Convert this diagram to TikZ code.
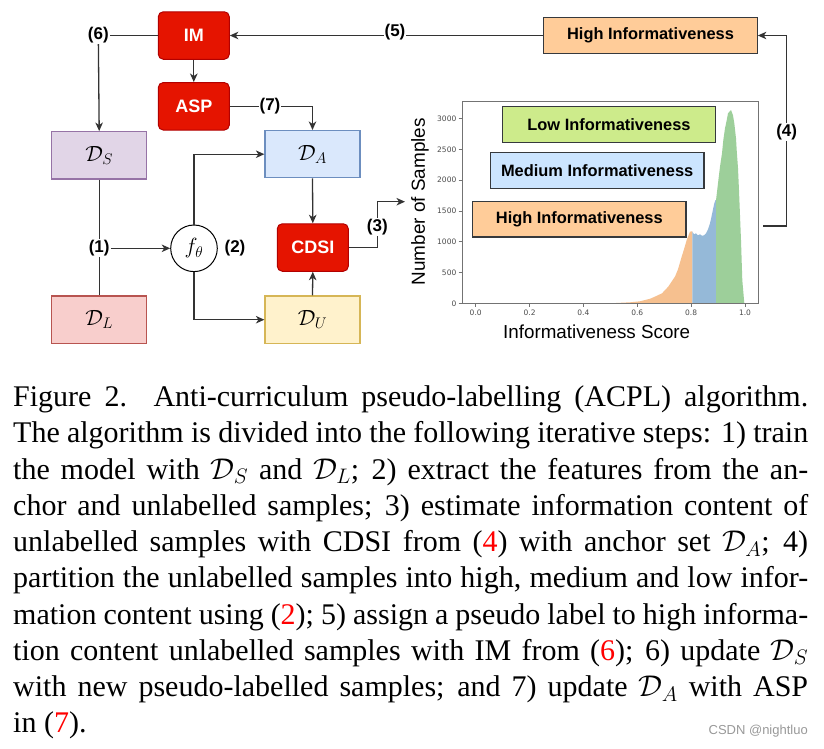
\RequirePackage{fix-cm}
\documentclass[tikz,border=0pt]{standalone}
\usepackage{fontspec}
\setmainfont{Liberation Serif}
\newfontfamily\arial{Liberation Sans}
\newfontfamily\dejavu{DejaVu Sans}
\usetikzlibrary{arrows.meta,calc}
\definecolor{redfill}{HTML}{E51400}
\definecolor{redline}{HTML}{B20000}
\definecolor{dsfill}{HTML}{E1D5E7}\definecolor{dsline}{HTML}{9673A6}
\definecolor{dlfill}{HTML}{F8CECC}\definecolor{dlline}{HTML}{B85450}
\definecolor{dafill}{HTML}{DAE8FC}\definecolor{daline}{HTML}{6C8EBF}
\definecolor{dufill}{HTML}{FFF2CC}\definecolor{duline}{HTML}{D6B656}
\definecolor{hifill}{HTML}{FFCC99}
\definecolor{mefill}{HTML}{CCE5FF}
\definecolor{lofill}{HTML}{CDEB8B}
\definecolor{boxgray}{HTML}{36393D}
\definecolor{linegray}{HTML}{333333}
\definecolor{horange}{HTML}{F6C08F}
\definecolor{hblue}{HTML}{95B9D8}
\definecolor{hgreen}{HTML}{9DCF9A}
\newcommand{\rn}[1]{\textcolor{red}{#1}}
\begin{document}
\begin{tikzpicture}[x=1pt,y=-1pt,
  redbox/.style={draw=redline, fill=redfill, rounded corners=5pt, minimum width=71pt, minimum height=47.5pt, inner sep=0pt, text=white, font=\arial\bfseries\fontsize{18}{21}\selectfont, line width=1pt},
  dbox/.style={minimum width=95pt, minimum height=47.3pt, inner sep=0pt, line width=1.2pt, font=\fontsize{22}{26}\selectfont},
  conn/.style={draw=linegray, line width=1.3pt},
  arr/.style={conn, -{Stealth[length=8.5pt,width=7.5pt,inset=2.5pt]}},
  lab/.style={font=\arial\bfseries\fontsize{17}{20}\selectfont, fill=white, inner sep=1pt},
  infobox/.style={draw=boxgray, line width=1.2pt, minimum width=213.5pt, minimum height=35.6pt, inner sep=0pt, font=\arial\bfseries\fontsize{16.4}{19}\selectfont},
  tickl/.style={font=\dejavu\fontsize{7.5}{9}\selectfont, text=black!70, inner sep=0pt},
  capline/.style={anchor=base west, inner sep=0pt, font=\fontsize{30}{36}\selectfont}
]
\useasboundingbox (0,0) rectangle (824,748);
\fill[white] (0,0) rectangle (824,748);

% ---------- histogram ----------
\fill[horange] (610,303.3) -- (620,302.8) -- (630,302.3) -- (640,301.3) -- (650,298.8) -- (655,296.6) -- (662,293.3) -- (668.3,286.6) -- (675,276.6) -- (678,269.3) -- (681.7,256.6) -- (684,249.3) -- (686.7,240) -- (690,231.6) -- (692.3,231.3) -- (692.3,303.3) -- cycle;
\fill[hblue] (692.3,303.3) -- (692.3,231.6) -- (694,234.3) -- (696,233.3) -- (698,235.3) -- (700,234.3) -- (702,235.8) -- (704,235.3) -- (706,233.3) -- (708,229.3) -- (710,223.3) -- (711.5,216.6) -- (713,209.3) -- (714.3,203.3) -- (715.5,200) -- (716,200) -- (716,303.3) -- cycle;
\fill[hgreen] (716,303.3) -- (716,200.3) -- (718,183.3) -- (720,166.6) -- (722,153.3) -- (723.3,140.3) -- (725,128.3) -- (726.7,120.3) -- (728,113.3) -- (731,110) -- (733,115.3) -- (734.3,123.3) -- (736,138.3) -- (736.7,150.3) -- (738,168.3) -- (739,190.3) -- (741,240.3) -- (742.3,280.3) -- (744.3,303.3) -- cycle;
\draw[black!55, line width=0.9pt] (462.3,101.7) rectangle (758.3,303.3);
\foreach \c in {0,500,1000,1500,2000,2500,3000}{
  \pgfmathsetmacro{\yy}{303.3-0.06153*\c}
  \draw[black!55, line width=0.8pt] (458.5,\yy) -- (462.3,\yy);
  \node[tickl, anchor=east] at (456.5,\yy) {\c};
}
\foreach \s/\t in {0/0.0,0.2/0.2,0.4/0.4,0.6/0.6,0.8/0.8,1/1.0}{
  \pgfmathsetmacro{\xx}{475.7+269.3*\s}
  \draw[black!55, line width=0.8pt] (\xx,303.3) -- (\xx,307);
  \node[tickl] at (\xx,312.5) {\t};
}
\node[rotate=90, font=\arial\fontsize{18.9}{22}\selectfont, inner sep=0pt] (ylab) at (420,201.7) {Number of Samples};
\node[font=\arial\fontsize{18.8}{22}\selectfont, inner sep=0pt] (xlab) at (596.7,332) {Informativeness Score};

\node[infobox, fill=lofill] (LO) at (609,124.5) {Low Informativeness};
\node[infobox, fill=mefill] (ME) at (597.2,170.5) {Medium Informativeness};
\node[infobox, fill=hifill] (HP) at (579.3,219.2) {High Informativeness};
\node[infobox, fill=hifill] (HI) at (650.5,35.5) {High Informativeness};

% ---------- flow diagram ----------
\node[redbox] (IM) at (193.8,35.5) {IM};
\node[redbox] (ASP) at (193.8,106.3) {ASP};
\node[redbox] (CDSI) at (312.8,247.5) {CDSI};
\node[dbox, draw=dsline, fill=dsfill] (DS) at (99.2,155.3) {$\mathcal{D}_S$};
\node[dbox, draw=dlline, fill=dlfill] (DL) at (99.2,319.7) {$\mathcal{D}_L$};
\node[dbox, draw=daline, fill=dafill] (DA) at (312.5,154.2) {$\mathcal{D}_A$};
\node[dbox, draw=duline, fill=dufill] (DU) at (312.5,319.7) {$\mathcal{D}_U$};
\node[circle, draw=black, line width=1pt, minimum size=46.6pt, inner sep=0pt, fill=white, font=\fontsize{22}{26}\selectfont] (f) at (194,248.3) {$f_\theta$};

\coordinate (c6) at (98.3,35.5);
\draw[conn] (IM.west) -- (c6);
\draw[arr] (c6) -- (DS.north);
\node[lab] (l6) at (c6) {(6)};

\draw[arr] (HI.west) -- (IM.east);
\node[lab] (l5) at (395,32.5) {(5)};

\draw[arr] (IM.south) -- (ASP.north);
\coordinate (c7) at (312.5,106.3);
\draw[arr] (ASP.east) -- (c7) -- (DA.north);
\node[lab] (l7) at (270,106.3) {(7)};

\draw[conn] (DS.south) -- (DL.north);
\node[lab] (l1) at (99.2,248.3) {(1)};
\draw[arr] (l1.east) -- (f.west);
\node[lab] (l2) at (235,248.3) {(2)};
\draw[arr] (f.north) |- (DA.west);
\draw[arr] (f.south) |- (DU.west);
\draw[arr] (DA.south) -- (CDSI.north);
\draw[arr] (DU.north) -- (CDSI.south);

\coordinate (c3a) at (377.3,247.5);
\coordinate (c3b) at (377.3,201.7);
\coordinate (c3end) at (405,201.7);
\draw[arr] (CDSI.east) -- (c3a) -- (c3b) -- (c3end);
\node[lab] (l3) at (377.3,226.7) {(3)};

\coordinate (c4s) at (763.3,226);
\coordinate (c4a) at (786.7,226);
\coordinate (c4b) at (786.7,35.5);
\draw[arr] (c4s) -- (c4a) -- (c4b) -- (HI.east);
\node[lab] (l4) at (786.7,131.7) {(4)};

% ---------- caption ----------
\node[capline] (cap1) at (13,406.7) {\makebox[795pt][s]{Figure 2. Anti-curriculum pseudo-labelling (ACPL) algorithm.}};
\node[capline] (cap2) at (13,442.95) {\makebox[795pt][s]{The algorithm is divided into the following iterative steps: 1) train}};
\node[capline] (cap3) at (13,479.2) {\makebox[795pt][s]{the model with $\mathcal{D}_S$ and $\mathcal{D}_L$; 2) extract the features from the an-}};
\node[capline] (cap4) at (13,515.45) {\makebox[795pt][s]{chor and unlabelled samples; 3) estimate information content of}};
\node[capline] (cap5) at (13,551.7) {\makebox[795pt][s]{unlabelled samples with CDSI from (\rn{4}) with anchor set $\mathcal{D}_A$; 4)}};
\node[capline] (cap6) at (13,587.95) {\makebox[795pt][s]{partition the unlabelled samples into high, medium and low infor-}};
\node[capline] (cap7) at (13,624.2) {\makebox[795pt][s]{mation content using (\rn{2}); 5) assign a pseudo label to high informa-}};
\node[capline] (cap8) at (13,660.45) {\makebox[795pt][s]{tion content unlabelled samples with IM from (\rn{6}); 6) update $\mathcal{D}_S$}};
\node[capline] (cap9) at (13,696.7) {\makebox[795pt][s]{with new pseudo-labelled samples; and 7) update $\mathcal{D}_A$ with ASP}};
\node[capline] (cap10) at (13,732.95) {in (\rn{7}).};

\node[anchor=east, text=black!40, font=\arial\fontsize{13}{15}\selectfont, inner sep=0pt] (wm) at (808,731) {CSDN @nightluo};
\end{tikzpicture}
\end{document}
